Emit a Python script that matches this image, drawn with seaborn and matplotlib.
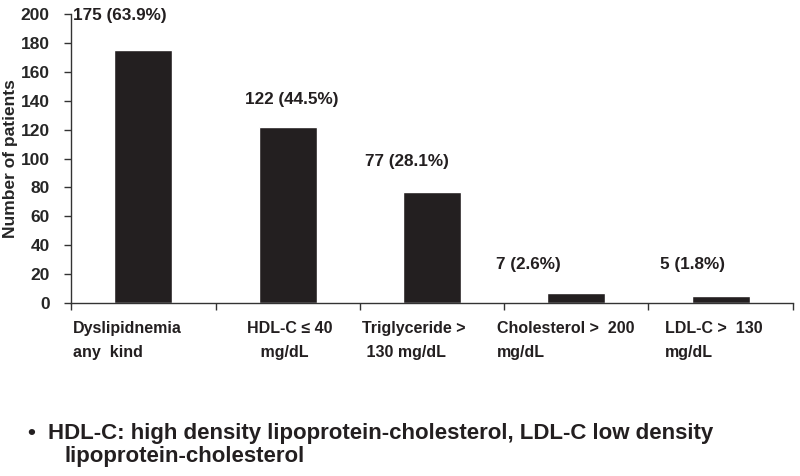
import matplotlib
matplotlib.use("Agg")
import matplotlib.pyplot as plt
import matplotlib.transforms as mtransforms
import seaborn as sns
import pandas as pd
import numpy as np

# data
categories = ["Dyslipidnemia\nany  kind", "HDL-C \u2264 40\n   mg/dL", "Triglyceride >\n 130 mg/dL",
              "Cholesterol >  200\nmg/dL", "LDL-C >  130\nmg/dL"]
patients = [175, 122, 77, 7, 5]
percents = [63.9, 44.5, 28.1, 2.6, 1.8]

# where the value labels sit (x offset from bar centre, y in data units)
label_dx = [-0.49, -0.295, -0.464, -0.557, -0.42]
label_y = [199, 140.5, 97.6, 27, 27]
# where the category labels start (x offset from bar centre)
cat_dx = [-0.486, -0.28, -0.485, -0.55, -0.385]

sns.set_theme(style="white")
plt.rcParams["font.family"] = ["Liberation Sans", "DejaVu Sans"]

df = pd.DataFrame({"category": categories, "patients": patients})

fig = plt.figure(figsize=(8, 4.76), dpi=100)
ax = fig.add_axes([0.089, 0.3634, 0.902, 0.6072])

sns.barplot(data=df, x="category", y="patients", color="#231f20", width=0.4,
            saturation=1, ax=ax)

ax.set_xlim(-0.5, len(categories) - 0.5)
ax.set_ylim(0, 200)
ax.set_yticks(np.arange(0, 201, 20))
ax.set_yticklabels([str(v) for v in range(0, 201, 20)], fontsize=12.5, fontweight="bold")
ax.set_xticks(np.arange(-0.5, len(categories), 1))
ax.set_xticklabels([])
ax.tick_params(axis="both", which="both", direction="out", length=5, width=1,
               color="#333333", bottom=True, left=True)
ax.tick_params(axis="y", pad=10.5)
ax.set_xlabel("")
ax.set_ylabel("Number of patients", fontsize=12.5, fontweight="bold", labelpad=2)

for side in ["top", "right"]:
    ax.spines[side].set_visible(False)
for side in ["left", "bottom"]:
    ax.spines[side].set_color("#333333")
    ax.spines[side].set_linewidth(1)

for i, (n, p) in enumerate(zip(patients, percents)):
    ax.text(i + label_dx[i], label_y[i], "{} ({}%)".format(n, p), fontsize=12.3,
            fontweight="bold", ha="left", va="center", color="#231f20")

trans = mtransforms.blended_transform_factory(ax.transData, ax.transAxes)
for i, cat in enumerate(categories):
    ax.text(i + cat_dx[i], -0.062, cat, transform=trans, fontsize=11.5, fontweight="bold",
            ha="left", va="top", linespacing=1.75, color="#231f20")

fig.text(0.034, 0.0903, "\u2022", fontsize=16, fontweight="bold", va="center", color="#231f20")
fig.text(0.06, 0.0903, "HDL-C: high density lipoprotein-cholesterol, LDL-C low density",
         fontsize=16, fontweight="bold", va="center", color="#231f20")
fig.text(0.081, 0.040, "lipoprotein-cholesterol",
         fontsize=16, fontweight="bold", va="center", color="#231f20")

fig.savefig("out.png", dpi=100)
